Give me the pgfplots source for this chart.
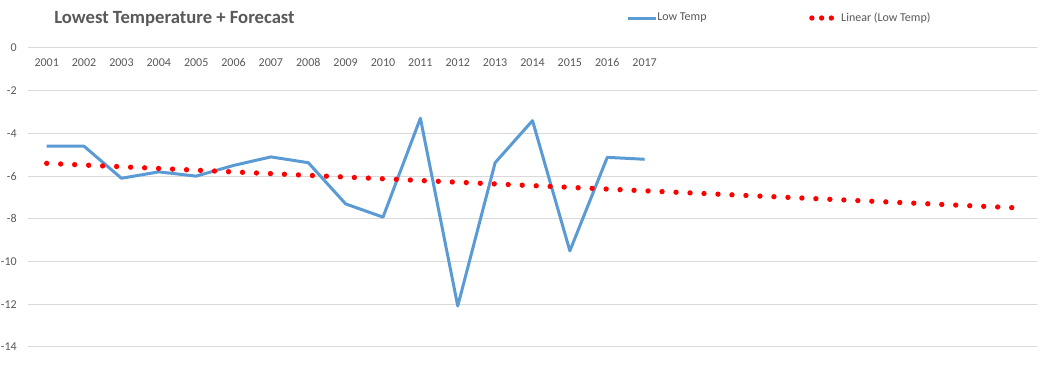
\documentclass[border=0pt]{standalone}
\usepackage{fontspec}
\setmainfont{Carlito}
\usepackage{pgfplots}
\pgfplotsset{compat=1.18}
\definecolor{lowblue}{HTML}{5B9BD5}
\definecolor{txtgray}{HTML}{595959}
\definecolor{gridgray}{HTML}{D9D9D9}
\pgfplotsset{
  legline/.style={legend image code/.code={\draw[##1] (0pt,0pt) -- (21pt,0pt);}},
  legdots/.style={legend image code/.code={\path[draw=none] (0pt,0pt) -- (22pt,0pt);\draw[##1, dash pattern=on 0pt off 7.3pt] (0pt,0pt) -- (14.6pt,0pt);}},
}
\begin{document}
\begin{tikzpicture}
\path[use as bounding box, fill=white] (0,0) rectangle (781.5pt,280.5pt);
\begin{axis}[
  at={(21pt,20.25pt)}, anchor=south west,
  scale only axis, width=756.75pt, height=224.25pt,
  xmin=0.5, xmax=27.5, ymin=-14, ymax=0,
  axis line style={draw=none},
  major tick length=0pt,
  ymajorgrids, grid style={gridgray, line width=0.75pt},
  ytick={-14,-12,-10,-8,-6,-4,-2,0},
  xtick={1,2,3,4,5,6,7,8,9,10,11,12,13,14,15,16,17},
  xticklabels={2001,2002,2003,2004,2005,2006,2007,2008,2009,2010,2011,2012,2013,2014,2015,2016,2017},
  xticklabel pos=upper,
  xticklabel style={anchor=base, yshift=-14pt, inner sep=0pt},
  yticklabel style={anchor=east, inner sep=0pt, xshift=-8.25pt},
  ticklabel style={font=\fontsize{9}{11}\selectfont, text=txtgray},
  /pgf/number format/assume math mode=true,
  legend columns=2,
  legend style={at={(0.5927,1.1003)}, anchor=west, draw=none, fill=none, inner sep=0pt,
    font=\fontsize{9}{11}\selectfont, text=txtgray,
    /tikz/every even column/.append style={column sep=77pt},
    nodes={inner sep=0pt}},
  clip=false,
]
\addplot[lowblue, line width=2.25pt, line join=round, legline]
  coordinates {(1,-4.6) (2,-4.6) (3,-6.1) (4,-5.8) (5,-6.0) (6,-5.5) (7,-5.1) (8,-5.37)
  (9,-7.3) (10,-7.92) (11,-3.29) (12,-12.08) (13,-5.37) (14,-3.4) (15,-9.5) (16,-5.12) (17,-5.21)};
\addlegendentry{Low Temp}
\addplot[red, line width=4pt, line cap=round, dash pattern=on 0pt off 10.5pt, legdots]
  coordinates {(1,-5.40) (27,-7.49)};
\addlegendentry{Linear (Low Temp)}
\end{axis}
\node[anchor=west, inner sep=0pt, font=\bfseries\fontsize{14}{16}\selectfont, text=txtgray] at (40.5pt,266.25pt) {Lowest Temperature + Forecast};
\end{tikzpicture}
\end{document}
